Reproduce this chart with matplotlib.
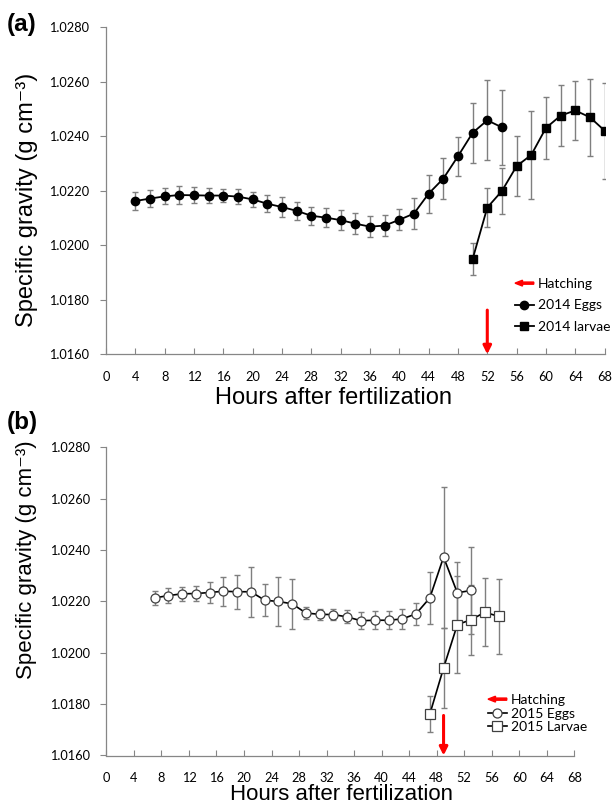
import numpy as np
import matplotlib.pyplot as plt
import matplotlib.patches as mpatches
from matplotlib.legend_handler import HandlerPatch
from matplotlib.ticker import FormatStrFormatter

# (a) 2014 data
hours_2014_eggs = list(range(4, 55, 2))
sg_2014_eggs = [1.02162, 1.02171, 1.02179, 1.02184, 1.02183, 1.02182, 1.02182, 1.02178,
                1.02168, 1.02152, 1.02140, 1.02126, 1.02108, 1.02101, 1.02092, 1.02079,
                1.02068, 1.02072, 1.02093, 1.02116, 1.02189, 1.02244, 1.02326, 1.02412,
                1.02458, 1.02432]
err_2014_eggs = [0.00032, 0.00032, 0.00029, 0.00033, 0.00029, 0.00026, 0.00024, 0.00027,
                 0.00028, 0.00032, 0.00035, 0.00032, 0.00033, 0.00034, 0.00037, 0.00039,
                 0.00038, 0.00039, 0.00038, 0.00057, 0.00070, 0.00074, 0.00072, 0.00110,
                 0.00146, 0.00138]
hours_2014_larvae = list(range(50, 69, 2))
sg_2014_larvae = [1.01949, 1.02138, 1.02199, 1.02290, 1.02331, 1.02430, 1.02475, 1.02494,
                  1.02469, 1.02420]
err_2014_larvae = [0.00060, 0.00070, 0.00084, 0.00111, 0.00160, 0.00115, 0.00113, 0.00109,
                   0.00142, 0.00176]
hatch_2014 = 52

# (b) 2015 data
hours_2015_eggs = list(range(7, 54, 2))
sg_2015_eggs = [1.02214, 1.02223, 1.02230, 1.02231, 1.02235, 1.02240, 1.02238, 1.02238,
                1.02205, 1.02200, 1.02191, 1.02155, 1.02150, 1.02149, 1.02140, 1.02125,
                1.02127, 1.02127, 1.02132, 1.02152, 1.02214, 1.02373, 1.02234, 1.02243]
err_2015_eggs = [0.00026, 0.00030, 0.00028, 0.00031, 0.00042, 0.00057, 0.00066, 0.00097,
                 0.00063, 0.00096, 0.00098, 0.00023, 0.00022, 0.00023, 0.00025, 0.00033,
                 0.00035, 0.00036, 0.00040, 0.00042, 0.00100, 0.00275, 0.00118, 0.00169]
hours_2015_larvae = list(range(47, 58, 2))
sg_2015_larvae = [1.01761, 1.01941, 1.02110, 1.02129, 1.02158, 1.02142]
err_2015_larvae = [0.00070, 0.00156, 0.00189, 0.00137, 0.00132, 0.00145]
hatch_2015 = 49

x_ticks = np.arange(0, 69, 4)
y_ticks = np.arange(1.0160, 1.02801, 0.002)

W, H = 612, 805
AXIS_GREY = '#868686'
TICK_FONT = 'Lato'
LABEL_FONT = ['Liberation Sans', 'DejaVu Sans']


def px_box(left, top, right, bottom):
    # figure pixels (from top-left) -> add_axes rect
    return [left / W, 1 - bottom / H, (right - left) / W, (bottom - top) / H]


def style_axes(ax):
    ax.set_xlim(0, 68)
    ax.set_ylim(1.0160, 1.0280)
    ax.set_xticks(x_ticks)
    ax.set_yticks(y_ticks)
    ax.yaxis.set_major_formatter(FormatStrFormatter('%.4f'))
    for s in ['top', 'right']:
        ax.spines[s].set_visible(False)
    for s in ['left', 'bottom']:
        ax.spines[s].set_color(AXIS_GREY)
        ax.spines[s].set_linewidth(0.9)
    ax.tick_params(axis='x', direction='in', length=4, color=AXIS_GREY, pad=12)
    ax.tick_params(axis='y', direction='out', length=4, color=AXIS_GREY, pad=8)
    for lab in ax.get_xticklabels() + ax.get_yticklabels():
        lab.set_fontfamily(TICK_FONT)
        lab.set_fontsize(9.2)


def arrow_handle(legend, orig_handle, xdescent, ydescent, width, height, fontsize):
    return mpatches.FancyArrow(width, height / 2, -width, 0, width=height * 0.22,
                               head_width=height * 0.6, head_length=width * 0.4,
                               length_includes_head=True, color='red', lw=0)


fig = plt.figure(figsize=(W / 100, H / 100), dpi=100)
ax_a = fig.add_axes(px_box(106, 27, 604.6, 354.3))
ax_b = fig.add_axes(px_box(106.4, 447.5, 574.3, 755.5))

err_kw = dict(fmt='none', ecolor='#7f7f7f', elinewidth=1.0, capsize=2.5, capthick=1.0, zorder=2)

# ---- panel (a)
ax_a.errorbar(hours_2014_eggs, sg_2014_eggs, yerr=err_2014_eggs, **err_kw)
ax_a.errorbar(hours_2014_larvae, sg_2014_larvae, yerr=err_2014_larvae, **err_kw)
eggs_a, = ax_a.plot(hours_2014_eggs, sg_2014_eggs, color='black', lw=1.3, marker='o',
                    ms=6, zorder=3, label='2014 Eggs')
larv_a, = ax_a.plot(hours_2014_larvae, sg_2014_larvae, color='black', lw=1.3, marker='s',
                    ms=5.8, zorder=3, label='2014 larvae')
ax_a.annotate('', xy=(hatch_2014, 0), xycoords=('data', 'axes fraction'),
              xytext=(hatch_2014, 0.135), textcoords=('data', 'axes fraction'),
              arrowprops=dict(arrowstyle='-|>', color='red', lw=2.2, mutation_scale=12,
                              shrinkA=0, shrinkB=0))
style_axes(ax_a)

# ---- panel (b)
ax_b.errorbar(hours_2015_eggs, sg_2015_eggs, yerr=err_2015_eggs, **err_kw)
ax_b.errorbar(hours_2015_larvae, sg_2015_larvae, yerr=err_2015_larvae, **err_kw)
eggs_b, = ax_b.plot(hours_2015_eggs, sg_2015_eggs, color='black', lw=1.2, marker='o',
                    ms=6.5, mfc='white', mec='#404040', mew=0.9, zorder=3, label='2015 Eggs')
larv_b, = ax_b.plot(hours_2015_larvae, sg_2015_larvae, color='black', lw=1.2, marker='s',
                    ms=6.5, mfc='white', mec='#404040', mew=0.9, zorder=3, label='2015 Larvae')
ax_b.annotate('', xy=(hatch_2015, 0), xycoords=('data', 'axes fraction'),
              xytext=(hatch_2015, 0.13), textcoords=('data', 'axes fraction'),
              arrowprops=dict(arrowstyle='-|>', color='red', lw=2.2, mutation_scale=12,
                              shrinkA=0, shrinkB=0))
style_axes(ax_b)

# legends
hatch_proxy = mpatches.Patch(color='red', label='Hatching')
leg_kw = dict(loc='upper left', frameon=False, borderpad=0, borderaxespad=0,
              handlelength=1.35, handletextpad=0.3, numpoints=1,
              prop={'family': TICK_FONT, 'size': 10},
              handler_map={hatch_proxy: HandlerPatch(patch_func=arrow_handle)},
              bbox_transform=fig.transFigure)
ax_a.legend(handles=[hatch_proxy, eggs_a, larv_a], labelspacing=0.68,
            bbox_to_anchor=(515 / W, 1 - 278 / H), **leg_kw)
ax_b.legend(handles=[hatch_proxy, eggs_b, larv_b], labelspacing=0.12,
            bbox_to_anchor=(488 / W, 1 - 694 / H), **leg_kw)

# axis titles and panel letters
ylab = 'Specific gravity (g cm\u207b\u00b3)'
fig.text(27 / W, 1 - 200 / H, ylab, rotation=90, ha='center', va='center',
         family=LABEL_FONT, fontsize=17)
fig.text(27 / W, 1 - 560 / H, ylab, rotation=90, ha='center', va='center',
         family=LABEL_FONT, fontsize=16)
fig.text(334 / W, 1 - 404 / H, 'Hours after fertilization', ha='center', va='baseline',
         family=LABEL_FONT, fontsize=17)
fig.text(342 / W, 1 - 800 / H, 'Hours after fertilization', ha='center', va='baseline',
         family=LABEL_FONT, fontsize=16)
fig.text(22 / W, 1 - 25 / H, '(a)', ha='center', va='center', family=LABEL_FONT,
         fontsize=17.5, fontweight='bold')
fig.text(22 / W, 1 - 422 / H, '(b)', ha='center', va='center', family=LABEL_FONT,
         fontsize=17.5, fontweight='bold')

fig.savefig('out.png', dpi=100)
